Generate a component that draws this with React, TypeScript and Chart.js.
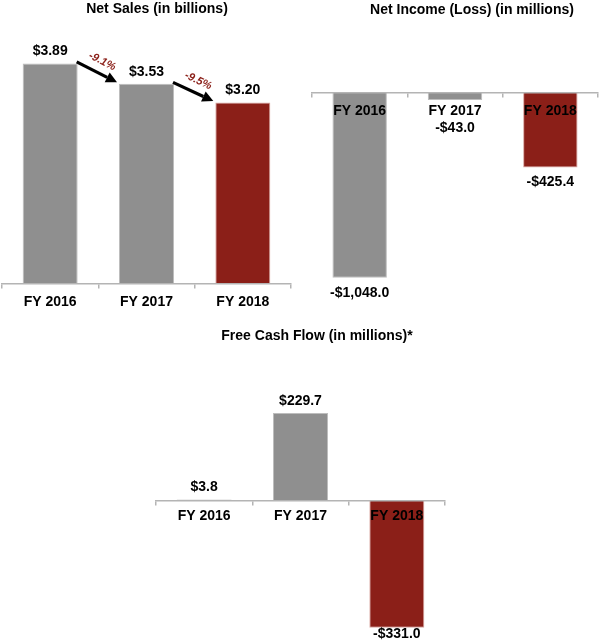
import React, { useEffect, useRef } from "react";
import { Chart, registerables } from "chart.js";

Chart.register(...registerables);

// ---------- data ----------
const categories = ["FY 2016", "FY 2017", "FY 2018"];
const netSales = [3.89, 3.53, 3.2];
const salesChange = ["-9.1%", "-9.5%"];
const netIncome = [-1048.0, -43.0, -425.4];
const freeCashFlow = [3.8, 229.7, -331.0];
const titles = [
  "Net Sales (in billions)",
  "Net Income (Loss) (in millions)",
  "Free Cash Flow (in millions)*",
];

// ---------- styles ----------
const FONT = '"Liberation Sans", Arial, Helvetica, sans-serif';
const GRAY = "#8f8f8f";
const RED = "#8b1f18";
const AXIS = "#b4b4b4";
const barColors = [GRAY, GRAY, RED];
const barBorders = ["#bdbdbd", "#bdbdbd", "#d9a6a1"];

type Panel = {
  left: number;
  top: number;
  width: number;
  height: number;
  padL: number;
  padR: number;
  zeroY: number;
  ppu: number;
  yMin: number;
  yMax: number;
  title: string;
  titleX: number;
  titleY: number;
  values: number[];
  decimals: number;
  tickPad: number;
  changes?: string[];
};

const panels: Panel[] = [
  {
    left: 0, top: 0, width: 300, height: 320, padL: 2, padR: 9,
    zeroY: 284, ppu: 56.7, yMin: 0, yMax: 5,
    title: titles[0], titleX: 157, titleY: 9.5,
    values: netSales, decimals: 2, tickPad: 6, changes: salesChange,
  },
  {
    left: 300, top: 0, width: 301, height: 320, padL: 12, padR: 3,
    zeroY: 92.3, ppu: 0.1769, yMin: -1200, yMax: 300,
    title: titles[1], titleX: 172, titleY: 10.5,
    values: netIncome, decimals: 1, tickPad: 6,
  },
  {
    left: 150, top: 320, width: 301, height: 322, padL: 6, padR: 6,
    zeroY: 181, ppu: 0.383, yMin: -350, yMax: 300,
    title: titles[2], titleX: 167, titleY: 15.7,
    values: freeCashFlow, decimals: 1, tickPad: 3,
  },
];

function fmt(v: number, d: number): string {
  const s = Math.abs(v).toLocaleString("en-US", {
    minimumFractionDigits: d,
    maximumFractionDigits: d,
  });
  return (v < 0 ? "-" : "") + "$" + s;
}

function overlay(p: Panel) {
  return {
    id: "overlay",
    afterDraw(chart: any) {
      const ctx = chart.ctx as CanvasRenderingContext2D;
      const yScale = chart.scales.y;
      const zeroPix = yScale.getPixelForValue(0);
      ctx.save();
      // title
      ctx.fillStyle = "#000";
      ctx.font = `bold 14px ${FONT}`;
      ctx.textAlign = "center";
      ctx.textBaseline = "middle";
      ctx.fillText(p.title, p.titleX, p.titleY);

      // value labels
      const meta = chart.getDatasetMeta(0);
      meta.data.forEach((el: any, i: number) => {
        const v = p.values[i];
        let y: number;
        if (v >= 0) {
          y = el.y - 12;
        } else {
          y = Math.max(el.y + 15, zeroPix + 36);
          y = Math.min(y, chart.height - 8);
        }
        ctx.fillStyle = "#000";
        ctx.font = `bold 14px ${FONT}`;
        ctx.textAlign = "center";
        ctx.textBaseline = "middle";
        ctx.fillText(fmt(v, p.decimals), el.x, y);
      });

      // change arrows
      if (p.changes) {
        for (let i = 0; i < meta.data.length - 1; i++) {
          const a = meta.data[i];
          const b = meta.data[i + 1];
          const x1 = a.x + a.width / 2 - 1;
          const y1 = a.y - 1.5;
          const x2 = b.x - b.width / 2 - 2;
          const y2 = b.y - 1.5;
          const ang = Math.atan2(y2 - y1, x2 - x1);
          const headLen = 11;
          const headW = 5.5;
          const bx = x2 - headLen * Math.cos(ang);
          const by = y2 - headLen * Math.sin(ang);
          ctx.strokeStyle = "#000";
          ctx.lineWidth = 3.2;
          ctx.beginPath();
          ctx.moveTo(x1, y1);
          ctx.lineTo(bx, by);
          ctx.stroke();
          ctx.fillStyle = "#000";
          ctx.beginPath();
          ctx.moveTo(x2, y2);
          ctx.lineTo(bx + headW * Math.sin(ang), by - headW * Math.cos(ang));
          ctx.lineTo(bx - headW * Math.sin(ang), by + headW * Math.cos(ang));
          ctx.closePath();
          ctx.fill();
          // label
          const mx = (x1 + x2) / 2 + 12 * Math.sin(ang);
          const my = (y1 + y2) / 2 - 12 * Math.cos(ang);
          ctx.save();
          ctx.translate(mx, my);
          ctx.rotate(ang);
          ctx.fillStyle = RED;
          ctx.font = `italic bold 11px ${FONT}`;
          ctx.textAlign = "center";
          ctx.textBaseline = "middle";
          ctx.fillText(p.changes[i], 0, 0);
          ctx.restore();
        }
      }
      ctx.restore();
    },
  };
}

function PanelChart({ p }: { p: Panel }) {
  const ref = useRef<HTMLCanvasElement | null>(null);
  useEffect(() => {
    if (!ref.current) return;
    const padTop = p.zeroY - p.yMax * p.ppu;
    const padBottom = p.height - (p.zeroY - p.yMin * p.ppu);
    const chart = new Chart(ref.current, {
      type: "bar",
      data: {
        labels: categories,
        datasets: [
          {
            data: p.values,
            backgroundColor: barColors,
            borderColor: barBorders,
            borderWidth: 1,
            barPercentage: 0.571,
            categoryPercentage: 1,
          },
        ],
      },
      options: {
        responsive: false,
        animation: false,
        devicePixelRatio: 1,
        layout: {
          padding: { left: p.padL, right: p.padR, top: padTop, bottom: padBottom },
        },
        plugins: {
          legend: { display: false },
          tooltip: { enabled: false },
          title: { display: false },
        },
        scales: {
          x: {
            position: { y: 0 } as any,
            grid: {
              drawOnChartArea: false,
              drawTicks: true,
              tickLength: 4,
              color: AXIS,
              lineWidth: 1.5,
              offset: true,
              z: 1,
            },
            border: { display: true, color: AXIS, width: 1.5, z: 1 },
            ticks: {
              color: "#000",
              font: { family: FONT, size: 14, weight: "bold" },
              padding: p.tickPad,
              maxRotation: 0,
              autoSkip: false,
              z: 2,
            },
          },
          y: {
            display: false,
            min: p.yMin,
            max: p.yMax,
            grid: { display: false },
            border: { display: false },
          },
        },
      } as any,
      plugins: [overlay(p)],
    });
    return () => chart.destroy();
  }, [p]);
  return (
    <canvas
      ref={ref}
      width={p.width}
      height={p.height}
      style={{
        position: "absolute",
        left: p.left,
        top: p.top,
        width: p.width,
        height: p.height,
      }}
    />
  );
}

export default function App() {
  return (
    <div
      style={{
        position: "absolute",
        left: 0,
        top: 0,
        width: 601,
        height: 642,
        background: "#fff",
        overflow: "hidden",
      }}
    >
      {panels.map((p, i) => (
        <PanelChart key={i} p={p} />
      ))}
    </div>
  );
}
